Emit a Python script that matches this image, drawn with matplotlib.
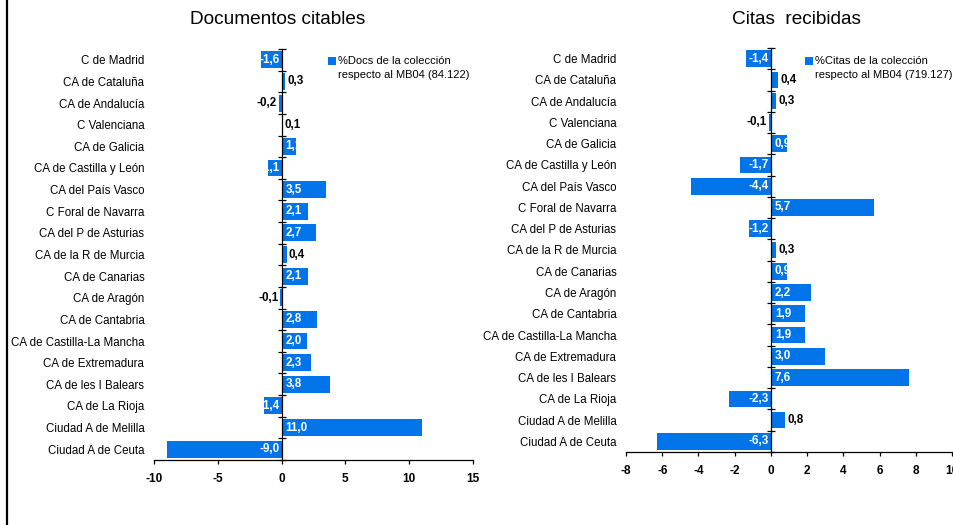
import matplotlib
matplotlib.use("Agg")
import matplotlib.pyplot as plt
import numpy as np
from matplotlib.lines import Line2D
from matplotlib.patches import Rectangle
from matplotlib.transforms import Bbox, offset_copy

plt.rcParams["font.family"] = ["Liberation Sans", "DejaVu Sans"]

regions = [
    "C de Madrid", "CA de Cataluña", "CA de Andalucía", "C Valenciana",
    "CA de Galicia", "CA de Castilla y León", "CA del País Vasco",
    "C Foral de Navarra", "CA del P de Asturias", "CA de la R de Murcia",
    "CA de Canarias", "CA de Aragón", "CA de Cantabria",
    "CA de Castilla-La Mancha", "CA de Extremadura", "CA de les I Balears",
    "CA de La Rioja", "Ciudad A de Melilla", "Ciudad A de Ceuta",
]
docs_pct = [-1.6, 0.3, -0.2, 0.1, 1.1, -1.1, 3.5, 2.1, 2.7, 0.4,
            2.1, -0.1, 2.8, 2.0, 2.3, 3.8, -1.4, 11.0, -9.0]
citas_pct = [-1.4, 0.4, 0.3, -0.1, 0.9, -1.7, -4.4, 5.7, -1.2, 0.3,
             0.9, 2.2, 1.9, 1.9, 3.0, 7.6, -2.3, 0.8, -6.3]
docs_ticks = [-10, -5, 0, 5, 10, 15]
citas_ticks = [-8, -6, -4, -2, 0, 2, 4, 6, 8, 10]
# labels drawn outside the bar end (black) instead of inside base (white)
docs_outside = ["CA de Cataluña", "CA de Andalucía", "C Valenciana",
                "CA de la R de Murcia", "CA de Aragón"]
citas_outside = ["CA de Cataluña", "CA de Andalucía", "C Valenciana",
                 "CA de la R de Murcia", "Ciudad A de Melilla"]

BLUE = "#0074E8"
W, H = 954, 525
BAR_H = 0.78

fig = plt.figure(figsize=(W / 100, H / 100), dpi=100)


def box(x0, y0, x1, y1):
    return [x0 / W, 1 - y1 / H, (x1 - x0) / W, (y1 - y0) / H]


def panel(rect, vals, ticks, outside, title, title_xy, legend_lines, legend_xy):
    ax = fig.add_axes(rect)
    y = np.arange(len(regions))
    ax.barh(y, vals, height=BAR_H, color=BLUE, zorder=1)
    ax.set_ylim(len(regions) - 0.5, -0.5)
    ax.set_xlim(ticks[0], ticks[-1])

    for s in ["left", "top"]:
        ax.spines[s].set_visible(False)
    ax.spines["right"].set_position(("data", 0))
    ax.spines["right"].set_linewidth(0.9)
    ax.spines["bottom"].set_linewidth(0.9)
    ax.tick_params(axis="y", which="major", left=True, right=False, length=0,
                   pad=7, labelsize=8.3)
    ax.tick_params(axis="y", which="minor", left=False, right=True,
                   direction="inout", length=6, width=0.9)
    ax.tick_params(axis="x", direction="out", length=3, width=0.9, pad=6,
                   labelsize=8.5)
    ax.patch.set_visible(False)

    ax.set_xticks(ticks)
    ax.set_xticklabels([str(t) for t in ticks], fontweight="bold")
    ax.set_yticks(y)
    ax.set_yticklabels(regions)
    ax.set_yticks(np.arange(len(regions) + 1) - 0.5, minor=True)

    for name, v, yi in zip(regions, vals, y):
        txt = f"{v:.1f}".replace(".", ",")
        if name in outside:
            dx, ha = (2, "left") if v >= 0 else (-2, "right")
            tr = offset_copy(ax.transData, fig=fig, x=dx, y=0, units="dots")
            ax.text(v, yi, txt, ha=ha, va="center", fontsize=8.4,
                    fontweight="bold", color="black", transform=tr)
        else:
            dx, ha = (4, "left") if v >= 0 else (-2, "right")
            tr = offset_copy(ax.transData, fig=fig, x=dx, y=0, units="dots")
            t = ax.text(0, yi, txt, ha=ha, va="center", fontsize=8.4,
                        fontweight="bold", color="white", transform=tr)
            # clip the label to the bar, as the original does
            pts = ax.transData.transform([[0, yi - BAR_H / 2], [v, yi + BAR_H / 2]])
            clip = Bbox([pts.min(axis=0), pts.max(axis=0)])
            t.set_clip_box(clip)
            t.set_clip_on(True)

    fig.text(title_xy[0] / W, 1 - title_xy[1] / H, title, ha="center",
             va="center", fontsize=13.7)
    lx, ly = legend_xy
    fig.add_artist(Rectangle((lx / W, 1 - (ly + 4) / H), 8 / W, 8 / H,
                             transform=fig.transFigure, color=BLUE, lw=0))
    for i, line in enumerate(legend_lines):
        fig.text((lx + 10) / W, 1 - (ly + i * 14.5) / H, line, ha="left",
                 va="center", fontsize=8.0)
    return ax


panel(box(154, 49, 473, 460), docs_pct, docs_ticks, docs_outside,
      "Documentos citables", (278, 20),
      ["%Docs de la colección", "respecto al MB04 (84.122)"], (328, 61))
panel(box(626, 48, 952, 452), citas_pct, citas_ticks, citas_outside,
      "Citas  recibidas", (796, 20),
      ["%Citas de la colección", "respecto al MB04 (719.127)"], (805, 61))

fig.add_artist(Line2D([7.5 / W, 7.5 / W], [0, 1], transform=fig.transFigure,
                      color="black", lw=1.6))

fig.savefig("out.png", dpi=100)
